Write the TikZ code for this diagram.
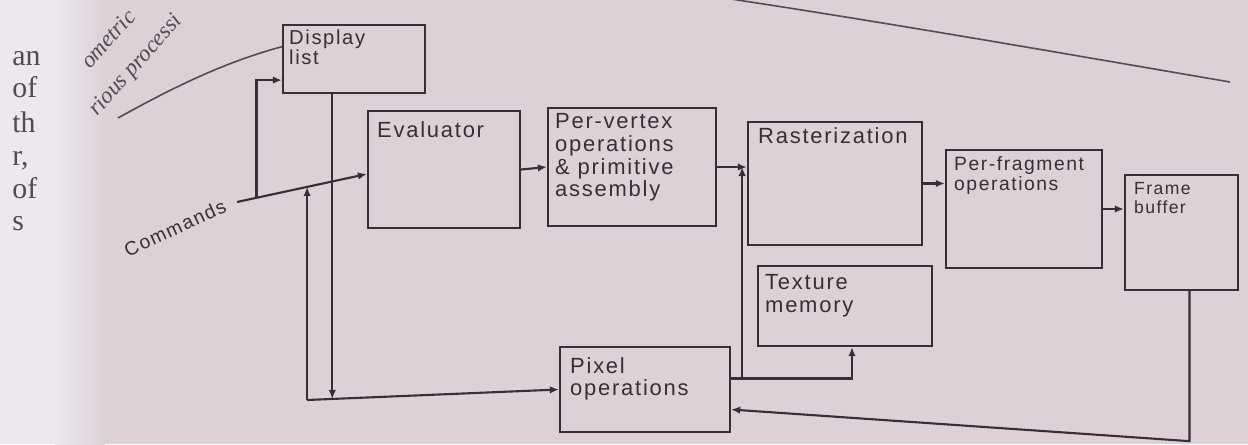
\documentclass[tikz,border=0pt]{standalone}
\usepackage{fontspec}
\setmainfont{Liberation Sans}
\newfontfamily\boxfont{Liberation Sans}[LetterSpace=8]
\newfontfamily\pagefont{Liberation Serif}
\usetikzlibrary{positioning,arrows.meta,calc}

\definecolor{paper}{RGB}{221,209,215}
\definecolor{leftpage}{RGB}{236,232,238}
\definecolor{ink}{RGB}{58,46,54}
\definecolor{pageink}{RGB}{84,74,82}

\begin{document}
\begin{tikzpicture}[
  stage/.style    = {draw=ink, line width=1.3pt, fill=paper, inner sep=0pt},
  lbl/.style      = {anchor=north west, align=left, inner sep=0pt, text=ink,
                     font=\boxfont\fontsize{12.5}{13}\selectfont},
  smalllbl/.style = {lbl, font=\boxfont\fontsize{11}{11.5}\selectfont},
  tinylbl/.style  = {lbl, font=\boxfont\fontsize{10}{11}\selectfont},
  wire/.style     = {draw=ink, line width=1.2pt},
  arrow/.style    = {wire, -{Latex[length=1.8mm,width=1.5mm]}},
  margin/.style   = {anchor=base west, inner sep=0pt, text=pageink,
                     font=\pagefont\fontsize{17}{17}\selectfont},
  header/.style   = {anchor=base west, inner sep=0pt, text=pageink, rotate=48,
                     font=\pagefont\itshape\fontsize{13}{13}\selectfont},
]

% ===== Page (photo background) =====
\useasboundingbox (0,0) rectangle (24.96,-8.88);
\clip (0,0) rectangle (24.96,-8.88);
\fill[paper] (0,0) rectangle (24.96,-8.88);
\fill[leftpage] (0,0) rectangle (1.1,-8.88);
\shade[left color=leftpage, right color=paper] (1.1,0) rectangle (2.1,-8.88);

% facing page, cut off at the gutter
\node[margin] (mg1) at (0.24,-1.30) {an};
\node[margin] (mg2) at (0.24,-1.94) {of};
\node[margin] (mg3) at (0.24,-2.64) {th};
\node[margin] (mg4) at (0.24,-3.30) {r,};
\node[margin] (mg5) at (0.24,-3.96) {of};
\node[margin] (mg6) at (0.24,-4.60) {s};

% running text and rule at the top of the page
\node[header] (hd1) at (1.80,-1.40) {ometric};
\node[header] (hd2) at (1.94,-2.34) {rious processi};
\draw[pageink, line width=0.9pt] (2.36,-2.36) .. controls (3.9,-1.5) and (5.0,-1.05) .. (6.2,-0.8);
\draw[pageink, line width=0.9pt] (12.0,0.4) .. controls (16,-0.15) and (20,-0.85) .. (24.6,-1.64);

% ===== Stages =====
\node[stage, minimum width=2.84cm, minimum height=1.36cm] (disp) at (7.08,-1.18) {};
\node[tinylbl, font=\boxfont\fontsize{11.5}{11}\selectfont] (dispT) at ($(disp.north west)+(0.14,-0.12)$) {Display\\list};

\node[stage, minimum width=3.04cm, minimum height=2.34cm] (eval) at (8.88,-3.39) {};
\node[lbl] (evalT) at ($(eval.north west)+(0.2,-0.22)$) {Evaluator};

\node[stage, minimum width=3.36cm, minimum height=2.36cm] (vert) at (12.64,-3.34) {};
\node[lbl] (vertT) at ($(vert.north west)+(0.16,-0.12)$)
      {Per-vertex\\operations\\\& primitive\\assembly};

\node[stage, minimum width=3.48cm, minimum height=2.46cm] (rast) at (16.70,-3.67) {};
\node[lbl] (rastT) at ($(rast.north west)+(0.22,-0.12)$) {Rasterization};

\node[stage, minimum width=3.12cm, minimum height=2.36cm] (frag) at (20.48,-4.18) {};
\node[smalllbl] (fragT) at ($(frag.north west)+(0.18,-0.14)$) {Per-fragment\\operations};

\node[stage, minimum width=2.26cm, minimum height=2.30cm] (fb) at (23.63,-4.65) {};
\node[tinylbl] (fbT) at ($(fb.north west)+(0.2,-0.16)$) {Frame\\buffer};

\node[stage, minimum width=3.48cm, minimum height=1.60cm] (tex) at (16.90,-6.12) {};
\node[lbl] (texT) at ($(tex.north west)+(0.16,-0.18)$) {Texture\\memory};

\node[stage, minimum width=3.40cm, minimum height=1.70cm] (pix) at (12.90,-7.79) {};
\node[lbl] (pixT) at ($(pix.north west)+(0.22,-0.22)$) {Pixel\\operations};

% ===== Commands bus =====
\coordinate (cmd) at (4.74,-4.04);
\node[lbl, anchor=center, rotate=25, font=\boxfont\fontsize{11}{11}\selectfont]
      (cmdT) at (3.50,-4.56) {Commands};
\coordinate (evin) at ($(eval.west)+(0,-0.09)$);
\draw[arrow] (cmd) -- (evin);
\coordinate (fkA) at ($(cmd)!0.15!(evin)$);
\coordinate (fkB) at ($(cmd)!0.54!(evin)$);
\draw[arrow] (fkA) |- ($(disp.south west)!0.2!(disp.north west)$);

% loop under the evaluator: display list and commands to pixel operations
\path (pix.west) ++(0,-0.21) coordinate (lowbus);
\coordinate (loop) at (fkB |- lowbus);
\draw[arrow] (loop) -- (fkB);
\draw[arrow] (loop) -- (pix.west);
\coordinate (dl) at ($(loop)!0.1!(pix.west)$);
\draw[arrow] (dl |- disp.south) -- (dl);

% ===== Geometry path =====
\draw[arrow] (eval.east) -- (vert.west);
\draw[arrow] (vert.east) -- (vert.east -| rast.west);
\draw[arrow] (rast.east) -- (rast.east -| frag.west);
\draw[arrow] (frag.east) -- (frag.east -| fb.west);

% ===== Pixel path =====
\coordinate (pixout) at ($(pix.east)+(0,0.22)$);
\coordinate (tap) at ($(pixout)+(0.22,0)$);
\draw[arrow] (tap) -- (tap |- vert.east);
\draw[arrow] (pixout) -| ($(tex.south)+(0.14,0)$);
\draw[arrow] ($(fb.south)+(0.16,0)$) -- ++(0,-3.0) -- ($(pix.east)+(0,-0.4)$);

\end{tikzpicture}
\end{document}
